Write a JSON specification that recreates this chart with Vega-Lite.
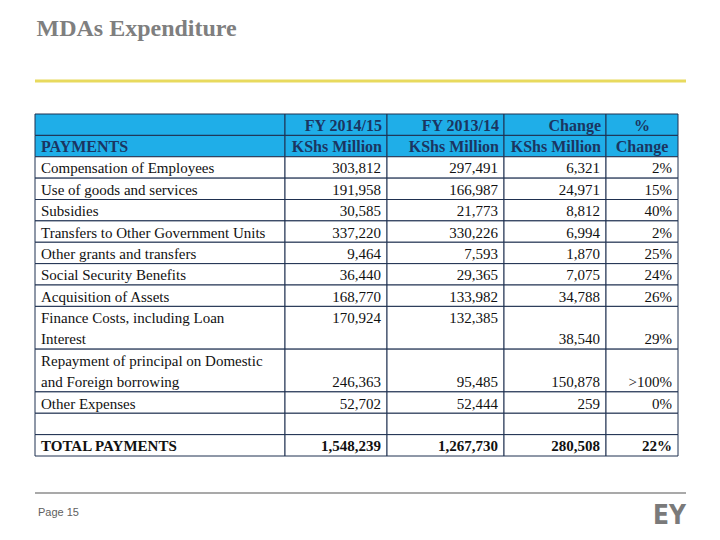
{
  "$schema": "https://vega.github.io/schema/vega-lite/v6.json",
  "padding": {"left": 33, "right": 36, "top": 17, "bottom": 0},
  "autosize": {"type": "pad"},
  "background": "white",
  "config": {"view": {"stroke": null}},
  "title": {"text": "MDAs Expenditure", "anchor": "start", "font": "Liberation Serif", "fontSize": 24, "fontWeight": "bold", "color": "#7F7F7F", "dx": 3, "offset": 14},
  "datasets": {
    "header": [
      {"label": "", "fy1415": "FY 2014/15", "fy1314": "FY 2013/14", "change": "Change", "pct": "%"},
      {"label": "PAYMENTS", "fy1415": "KShs Million", "fy1314": "KShs Million", "change": "KShs Million", "pct": "Change"}
    ],
    "lines": [
      {"row": "Compensation of Employees", "label": "Compensation of Employees", "fy1415": 303812, "fy1314": 297491, "change": 6321, "pct": "2%"},
      {"row": "Use of goods and services", "label": "Use of goods and services", "fy1415": 191958, "fy1314": 166987, "change": 24971, "pct": "15%"},
      {"row": "Subsidies", "label": "Subsidies", "fy1415": 30585, "fy1314": 21773, "change": 8812, "pct": "40%"},
      {"row": "Transfers to Other Government Units", "label": "Transfers to Other Government Units", "fy1415": 337220, "fy1314": 330226, "change": 6994, "pct": "2%"},
      {"row": "Other grants and transfers", "label": "Other grants and transfers", "fy1415": 9464, "fy1314": 7593, "change": 1870, "pct": "25%"},
      {"row": "Social Security Benefits", "label": "Social Security Benefits", "fy1415": 36440, "fy1314": 29365, "change": 7075, "pct": "24%"},
      {"row": "Acquisition of Assets", "label": "Acquisition of Assets", "fy1415": 168770, "fy1314": 133982, "change": 34788, "pct": "26%"},
      {"row": "Finance Costs, including Loan Interest", "label": "Finance Costs, including Loan", "fy1415": 170924, "fy1314": 132385, "change": null, "pct": null},
      {"row": "Finance Costs, including Loan Interest", "label": "Interest", "fy1415": null, "fy1314": null, "change": 38540, "pct": "29%"},
      {"row": "Repayment of principal on Domestic and Foreign borrowing", "label": "Repayment of principal on Domestic", "fy1415": null, "fy1314": null, "change": null, "pct": null},
      {"row": "Repayment of principal on Domestic and Foreign borrowing", "label": "and Foreign borrowing", "fy1415": 246363, "fy1314": 95485, "change": 150878, "pct": ">100%"},
      {"row": "Other Expenses", "label": "Other Expenses", "fy1415": 52702, "fy1314": 52444, "change": 259, "pct": "0%"},
      {"row": "(blank)", "label": "", "fy1415": null, "fy1314": null, "change": null, "pct": null},
      {"row": "TOTAL PAYMENTS", "label": "TOTAL PAYMENTS", "fy1415": 1548239, "fy1314": 1267730, "change": 280508, "pct": "22%"}
    ]
  },
  "vconcat": [
    {
      "width": 651, "height": 26,
      "data": {"values": [{}]},
      "mark": {"type": "rule", "color": "#E8DA5E", "strokeWidth": 3},
      "encoding": {"y": {"datum": 0, "type": "quantitative", "scale": {"domain": [0, 1]}, "axis": null}}
    },
    {
      "vconcat": [
        {
          "hconcat": [
            {
              "width": 250, "height": 342,
              "layer": [
                {"data": {"name": "header"}, "transform": [{"window": [{"op": "row_number", "as": "line"}]}, {"calculate": "datum.line - 1", "as": "top"}],
                 "mark": {"type": "rect", "fill": "#1FAEE8", "stroke": "#1F3050", "strokeWidth": 1},
                 "encoding": {"y": {"field": "top", "type": "quantitative", "scale": {"domain": [0, 16], "reverse": true}, "axis": null}, "y2": {"field": "line"}}},
                {"data": {"name": "header"}, "transform": [{"window": [{"op": "row_number", "as": "line"}]}, {"calculate": "datum.line - 0.5", "as": "mid"}],
                 "mark": {"type": "text", "font": "Liberation Serif", "fontSize": 16, "fontWeight": "bold", "color": "#1B3561", "align": "left", "baseline": "middle", "dx": 6, "dy": 1},
                 "encoding": {"x": {"datum": 0, "type": "quantitative", "scale": {"domain": [0, 1]}, "axis": null}, "y": {"field": "mid", "type": "quantitative", "scale": {"domain": [0, 16], "reverse": true}, "axis": null}, "text": {"field": "label", "type": "nominal"}}},
                {"data": {"name": "lines"}, "transform": [{"window": [{"op": "row_number", "as": "rn"}]}, {"calculate": "datum.rn + 2", "as": "line"}, {"aggregate": [{"op": "min", "field": "line", "as": "first"}, {"op": "max", "field": "line", "as": "last"}], "groupby": ["row"]}, {"calculate": "datum.first - 1", "as": "top"}],
                 "mark": {"type": "rect", "fill": "white", "stroke": "#1F3050", "strokeWidth": 1},
                 "encoding": {"y": {"field": "top", "type": "quantitative", "scale": {"domain": [0, 16], "reverse": true}, "axis": null}, "y2": {"field": "last"}}},
                {"data": {"name": "lines"}, "transform": [{"window": [{"op": "row_number", "as": "rn"}]}, {"calculate": "datum.rn + 1.5", "as": "mid"}, {"filter": "datum.row !== 'TOTAL PAYMENTS'"}],
                 "mark": {"type": "text", "font": "Liberation Serif", "fontSize": 15, "color": "#111111", "align": "left", "baseline": "middle", "dx": 6, "dy": 1},
                 "encoding": {"x": {"datum": 0, "type": "quantitative", "scale": {"domain": [0, 1]}, "axis": null}, "y": {"field": "mid", "type": "quantitative", "scale": {"domain": [0, 16], "reverse": true}, "axis": null}, "text": {"field": "label", "type": "nominal"}}},
                {"data": {"name": "lines"}, "transform": [{"window": [{"op": "row_number", "as": "rn"}]}, {"calculate": "datum.rn + 1.5", "as": "mid"}, {"filter": "datum.row === 'TOTAL PAYMENTS'"}],
                 "mark": {"type": "text", "font": "Liberation Serif", "fontSize": 15, "fontWeight": "bold", "color": "#111111", "align": "left", "baseline": "middle", "dx": 6, "dy": 1},
                 "encoding": {"x": {"datum": 0, "type": "quantitative", "scale": {"domain": [0, 1]}, "axis": null}, "y": {"field": "mid", "type": "quantitative", "scale": {"domain": [0, 16], "reverse": true}, "axis": null}, "text": {"field": "label", "type": "nominal"}}}
              ]
            },
            {
              "width": 102, "height": 342,
              "layer": [
                {"data": {"name": "header"}, "transform": [{"window": [{"op": "row_number", "as": "line"}]}, {"calculate": "datum.line - 1", "as": "top"}],
                 "mark": {"type": "rect", "fill": "#1FAEE8", "stroke": "#1F3050", "strokeWidth": 1},
                 "encoding": {"y": {"field": "top", "type": "quantitative", "scale": {"domain": [0, 16], "reverse": true}, "axis": null}, "y2": {"field": "line"}}},
                {"data": {"name": "header"}, "transform": [{"window": [{"op": "row_number", "as": "line"}]}, {"calculate": "datum.line - 0.5", "as": "mid"}],
                 "mark": {"type": "text", "font": "Liberation Serif", "fontSize": 16, "fontWeight": "bold", "color": "#1B3561", "align": "right", "baseline": "middle", "dx": -5, "dy": 1},
                 "encoding": {"x": {"datum": 1, "type": "quantitative", "scale": {"domain": [0, 1]}, "axis": null}, "y": {"field": "mid", "type": "quantitative", "scale": {"domain": [0, 16], "reverse": true}, "axis": null}, "text": {"field": "fy1415", "type": "nominal"}}},
                {"data": {"name": "lines"}, "transform": [{"window": [{"op": "row_number", "as": "rn"}]}, {"calculate": "datum.rn + 2", "as": "line"}, {"aggregate": [{"op": "min", "field": "line", "as": "first"}, {"op": "max", "field": "line", "as": "last"}], "groupby": ["row"]}, {"calculate": "datum.first - 1", "as": "top"}],
                 "mark": {"type": "rect", "fill": "white", "stroke": "#1F3050", "strokeWidth": 1},
                 "encoding": {"y": {"field": "top", "type": "quantitative", "scale": {"domain": [0, 16], "reverse": true}, "axis": null}, "y2": {"field": "last"}}},
                {"data": {"name": "lines"}, "transform": [{"window": [{"op": "row_number", "as": "rn"}]}, {"calculate": "datum.rn + 1.5", "as": "mid"}, {"filter": "isValid(datum.fy1415) && datum.row !== 'TOTAL PAYMENTS'"}],
                 "mark": {"type": "text", "font": "Liberation Serif", "fontSize": 15, "color": "#111111", "align": "right", "baseline": "middle", "dx": -6, "dy": 1},
                 "encoding": {"x": {"datum": 1, "type": "quantitative", "scale": {"domain": [0, 1]}, "axis": null}, "y": {"field": "mid", "type": "quantitative", "scale": {"domain": [0, 16], "reverse": true}, "axis": null}, "text": {"field": "fy1415", "type": "quantitative", "format": ","}}},
                {"data": {"name": "lines"}, "transform": [{"window": [{"op": "row_number", "as": "rn"}]}, {"calculate": "datum.rn + 1.5", "as": "mid"}, {"filter": "datum.row === 'TOTAL PAYMENTS'"}],
                 "mark": {"type": "text", "font": "Liberation Serif", "fontSize": 15, "fontWeight": "bold", "color": "#111111", "align": "right", "baseline": "middle", "dx": -6, "dy": 1},
                 "encoding": {"x": {"datum": 1, "type": "quantitative", "scale": {"domain": [0, 1]}, "axis": null}, "y": {"field": "mid", "type": "quantitative", "scale": {"domain": [0, 16], "reverse": true}, "axis": null}, "text": {"field": "fy1415", "type": "quantitative", "format": ","}}}
              ]
            },
            {
              "width": 117, "height": 342,
              "layer": [
                {"data": {"name": "header"}, "transform": [{"window": [{"op": "row_number", "as": "line"}]}, {"calculate": "datum.line - 1", "as": "top"}],
                 "mark": {"type": "rect", "fill": "#1FAEE8", "stroke": "#1F3050", "strokeWidth": 1},
                 "encoding": {"y": {"field": "top", "type": "quantitative", "scale": {"domain": [0, 16], "reverse": true}, "axis": null}, "y2": {"field": "line"}}},
                {"data": {"name": "header"}, "transform": [{"window": [{"op": "row_number", "as": "line"}]}, {"calculate": "datum.line - 0.5", "as": "mid"}],
                 "mark": {"type": "text", "font": "Liberation Serif", "fontSize": 16, "fontWeight": "bold", "color": "#1B3561", "align": "right", "baseline": "middle", "dx": -5, "dy": 1},
                 "encoding": {"x": {"datum": 1, "type": "quantitative", "scale": {"domain": [0, 1]}, "axis": null}, "y": {"field": "mid", "type": "quantitative", "scale": {"domain": [0, 16], "reverse": true}, "axis": null}, "text": {"field": "fy1314", "type": "nominal"}}},
                {"data": {"name": "lines"}, "transform": [{"window": [{"op": "row_number", "as": "rn"}]}, {"calculate": "datum.rn + 2", "as": "line"}, {"aggregate": [{"op": "min", "field": "line", "as": "first"}, {"op": "max", "field": "line", "as": "last"}], "groupby": ["row"]}, {"calculate": "datum.first - 1", "as": "top"}],
                 "mark": {"type": "rect", "fill": "white", "stroke": "#1F3050", "strokeWidth": 1},
                 "encoding": {"y": {"field": "top", "type": "quantitative", "scale": {"domain": [0, 16], "reverse": true}, "axis": null}, "y2": {"field": "last"}}},
                {"data": {"name": "lines"}, "transform": [{"window": [{"op": "row_number", "as": "rn"}]}, {"calculate": "datum.rn + 1.5", "as": "mid"}, {"filter": "isValid(datum.fy1314) && datum.row !== 'TOTAL PAYMENTS'"}],
                 "mark": {"type": "text", "font": "Liberation Serif", "fontSize": 15, "color": "#111111", "align": "right", "baseline": "middle", "dx": -6, "dy": 1},
                 "encoding": {"x": {"datum": 1, "type": "quantitative", "scale": {"domain": [0, 1]}, "axis": null}, "y": {"field": "mid", "type": "quantitative", "scale": {"domain": [0, 16], "reverse": true}, "axis": null}, "text": {"field": "fy1314", "type": "quantitative", "format": ","}}},
                {"data": {"name": "lines"}, "transform": [{"window": [{"op": "row_number", "as": "rn"}]}, {"calculate": "datum.rn + 1.5", "as": "mid"}, {"filter": "datum.row === 'TOTAL PAYMENTS'"}],
                 "mark": {"type": "text", "font": "Liberation Serif", "fontSize": 15, "fontWeight": "bold", "color": "#111111", "align": "right", "baseline": "middle", "dx": -6, "dy": 1},
                 "encoding": {"x": {"datum": 1, "type": "quantitative", "scale": {"domain": [0, 1]}, "axis": null}, "y": {"field": "mid", "type": "quantitative", "scale": {"domain": [0, 16], "reverse": true}, "axis": null}, "text": {"field": "fy1314", "type": "quantitative", "format": ","}}}
              ]
            },
            {
              "width": 102, "height": 342,
              "layer": [
                {"data": {"name": "header"}, "transform": [{"window": [{"op": "row_number", "as": "line"}]}, {"calculate": "datum.line - 1", "as": "top"}],
                 "mark": {"type": "rect", "fill": "#1FAEE8", "stroke": "#1F3050", "strokeWidth": 1},
                 "encoding": {"y": {"field": "top", "type": "quantitative", "scale": {"domain": [0, 16], "reverse": true}, "axis": null}, "y2": {"field": "line"}}},
                {"data": {"name": "header"}, "transform": [{"window": [{"op": "row_number", "as": "line"}]}, {"calculate": "datum.line - 0.5", "as": "mid"}],
                 "mark": {"type": "text", "font": "Liberation Serif", "fontSize": 16, "fontWeight": "bold", "color": "#1B3561", "align": "right", "baseline": "middle", "dx": -5, "dy": 1},
                 "encoding": {"x": {"datum": 1, "type": "quantitative", "scale": {"domain": [0, 1]}, "axis": null}, "y": {"field": "mid", "type": "quantitative", "scale": {"domain": [0, 16], "reverse": true}, "axis": null}, "text": {"field": "change", "type": "nominal"}}},
                {"data": {"name": "lines"}, "transform": [{"window": [{"op": "row_number", "as": "rn"}]}, {"calculate": "datum.rn + 2", "as": "line"}, {"aggregate": [{"op": "min", "field": "line", "as": "first"}, {"op": "max", "field": "line", "as": "last"}], "groupby": ["row"]}, {"calculate": "datum.first - 1", "as": "top"}],
                 "mark": {"type": "rect", "fill": "white", "stroke": "#1F3050", "strokeWidth": 1},
                 "encoding": {"y": {"field": "top", "type": "quantitative", "scale": {"domain": [0, 16], "reverse": true}, "axis": null}, "y2": {"field": "last"}}},
                {"data": {"name": "lines"}, "transform": [{"window": [{"op": "row_number", "as": "rn"}]}, {"calculate": "datum.rn + 1.5", "as": "mid"}, {"filter": "isValid(datum.change) && datum.row !== 'TOTAL PAYMENTS'"}],
                 "mark": {"type": "text", "font": "Liberation Serif", "fontSize": 15, "color": "#111111", "align": "right", "baseline": "middle", "dx": -6, "dy": 1},
                 "encoding": {"x": {"datum": 1, "type": "quantitative", "scale": {"domain": [0, 1]}, "axis": null}, "y": {"field": "mid", "type": "quantitative", "scale": {"domain": [0, 16], "reverse": true}, "axis": null}, "text": {"field": "change", "type": "quantitative", "format": ","}}},
                {"data": {"name": "lines"}, "transform": [{"window": [{"op": "row_number", "as": "rn"}]}, {"calculate": "datum.rn + 1.5", "as": "mid"}, {"filter": "datum.row === 'TOTAL PAYMENTS'"}],
                 "mark": {"type": "text", "font": "Liberation Serif", "fontSize": 15, "fontWeight": "bold", "color": "#111111", "align": "right", "baseline": "middle", "dx": -6, "dy": 1},
                 "encoding": {"x": {"datum": 1, "type": "quantitative", "scale": {"domain": [0, 1]}, "axis": null}, "y": {"field": "mid", "type": "quantitative", "scale": {"domain": [0, 16], "reverse": true}, "axis": null}, "text": {"field": "change", "type": "quantitative", "format": ","}}}
              ]
            },
            {
              "width": 72, "height": 342,
              "layer": [
                {"data": {"name": "header"}, "transform": [{"window": [{"op": "row_number", "as": "line"}]}, {"calculate": "datum.line - 1", "as": "top"}],
                 "mark": {"type": "rect", "fill": "#1FAEE8", "stroke": "#1F3050", "strokeWidth": 1},
                 "encoding": {"y": {"field": "top", "type": "quantitative", "scale": {"domain": [0, 16], "reverse": true}, "axis": null}, "y2": {"field": "line"}}},
                {"data": {"name": "header"}, "transform": [{"window": [{"op": "row_number", "as": "line"}]}, {"calculate": "datum.line - 0.5", "as": "mid"}],
                 "mark": {"type": "text", "font": "Liberation Serif", "fontSize": 16, "fontWeight": "bold", "color": "#1B3561", "align": "center", "baseline": "middle", "dx": 0, "dy": 1},
                 "encoding": {"x": {"datum": 0.5, "type": "quantitative", "scale": {"domain": [0, 1]}, "axis": null}, "y": {"field": "mid", "type": "quantitative", "scale": {"domain": [0, 16], "reverse": true}, "axis": null}, "text": {"field": "pct", "type": "nominal"}}},
                {"data": {"name": "lines"}, "transform": [{"window": [{"op": "row_number", "as": "rn"}]}, {"calculate": "datum.rn + 2", "as": "line"}, {"aggregate": [{"op": "min", "field": "line", "as": "first"}, {"op": "max", "field": "line", "as": "last"}], "groupby": ["row"]}, {"calculate": "datum.first - 1", "as": "top"}],
                 "mark": {"type": "rect", "fill": "white", "stroke": "#1F3050", "strokeWidth": 1},
                 "encoding": {"y": {"field": "top", "type": "quantitative", "scale": {"domain": [0, 16], "reverse": true}, "axis": null}, "y2": {"field": "last"}}},
                {"data": {"name": "lines"}, "transform": [{"window": [{"op": "row_number", "as": "rn"}]}, {"calculate": "datum.rn + 1.5", "as": "mid"}, {"filter": "isValid(datum.pct) && datum.row !== 'TOTAL PAYMENTS'"}],
                 "mark": {"type": "text", "font": "Liberation Serif", "fontSize": 15, "color": "#111111", "align": "right", "baseline": "middle", "dx": -6, "dy": 1},
                 "encoding": {"x": {"datum": 1, "type": "quantitative", "scale": {"domain": [0, 1]}, "axis": null}, "y": {"field": "mid", "type": "quantitative", "scale": {"domain": [0, 16], "reverse": true}, "axis": null}, "text": {"field": "pct", "type": "nominal"}}},
                {"data": {"name": "lines"}, "transform": [{"window": [{"op": "row_number", "as": "rn"}]}, {"calculate": "datum.rn + 1.5", "as": "mid"}, {"filter": "datum.row === 'TOTAL PAYMENTS'"}],
                 "mark": {"type": "text", "font": "Liberation Serif", "fontSize": 15, "fontWeight": "bold", "color": "#111111", "align": "right", "baseline": "middle", "dx": -6, "dy": 1},
                 "encoding": {"x": {"datum": 1, "type": "quantitative", "scale": {"domain": [0, 1]}, "axis": null}, "y": {"field": "mid", "type": "quantitative", "scale": {"domain": [0, 16], "reverse": true}, "axis": null}, "text": {"field": "pct", "type": "nominal"}}}
              ]
            }
          ],
          "spacing": 0,
          "bounds": "flush"
        },
        {
          "width": 651, "height": 40,
          "data": {"values": [{"page": "Page 15", "brand": "EY"}]},
          "layer": [
            {"mark": {"type": "rule", "color": "#8C8C8C", "strokeWidth": 1.5},
             "encoding": {"y": {"datum": 0, "type": "quantitative", "scale": {"domain": [0, 1], "reverse": true}, "axis": null}}},
            {"mark": {"type": "text", "font": "Liberation Sans", "fontSize": 11, "color": "#606060", "align": "left", "baseline": "middle", "dx": 3},
             "encoding": {"x": {"datum": 0, "type": "quantitative", "scale": {"domain": [0, 1]}, "axis": null}, "y": {"datum": 0.5, "type": "quantitative", "scale": {"domain": [0, 1], "reverse": true}, "axis": null}, "text": {"field": "page", "type": "nominal"}}},
            {"mark": {"type": "text", "font": "DejaVu Sans Condensed", "fontSize": 26, "fontWeight": "bold", "color": "#7A7A7A", "align": "right", "baseline": "middle", "dy": 3},
             "encoding": {"x": {"datum": 1, "type": "quantitative", "scale": {"domain": [0, 1]}, "axis": null}, "y": {"datum": 0.5, "type": "quantitative", "scale": {"domain": [0, 1], "reverse": true}, "axis": null}, "text": {"field": "brand", "type": "nominal"}}}
          ]
        }
      ],
      "spacing": 35
    }
  ],
  "spacing": 30
}
